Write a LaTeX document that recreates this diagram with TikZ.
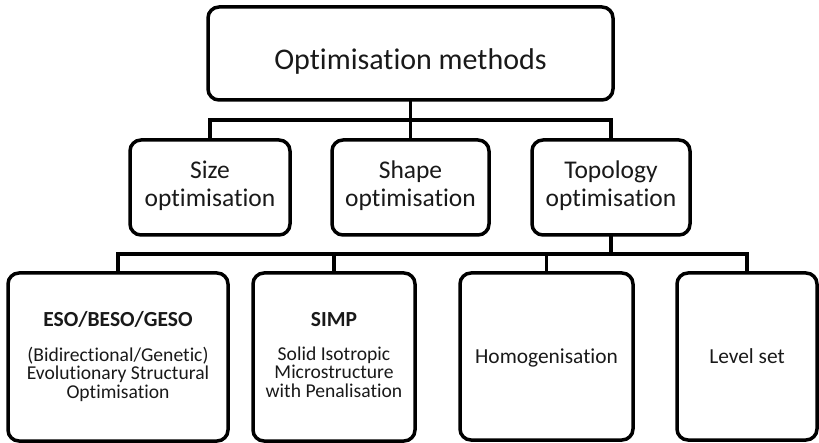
\documentclass[tikz,border=0pt]{standalone}
\usepackage{fontspec}
\setmainfont{Carlito}[Ligatures={NoCommon,NoRare,NoContextual}]
\newcommand{\stk}[1]{\vtop{\halign{\hfil##\hfil\cr#1\crcr}}}
\begin{document}
\begin{tikzpicture}[x=1pt,y=-1pt,line width=3.5pt,
  box/.style={draw, rounded corners=11pt, inner sep=0pt, outer sep=0pt},
  txt/.style={anchor=base, inner sep=0pt, outer sep=0pt, text=black!90},
  topfont/.style={font=\fontsize{30}{36}\selectfont},
  midfont/.style={font=\fontsize{25.5}{27.5}\selectfont},
  headfont/.style={font=\fontsize{21.5}{24}\selectfont\bfseries},
  bodyfont/.style={font=\fontsize{19.6}{18.4}\selectfont},
  leaffont/.style={font=\fontsize{21.4}{24}\selectfont}]
\useasboundingbox (0,0) rectangle (819,443);
% boxes
\node[box, minimum width=405, minimum height=93] (top) at (410.5,53.5) {};
\node[box, minimum width=160, minimum height=95] (size) at (210,187.5) {};
\node[box, minimum width=157, minimum height=95] (shape) at (410.5,187.5) {};
\node[box, minimum width=158, minimum height=95] (topo) at (611,187.5) {};
\node[box, minimum width=220, minimum height=168] (eso) at (118,357) {};
\node[box, minimum width=162, minimum height=168] (simp) at (334,357) {};
\node[box, minimum width=173, minimum height=167] (homog) at (546.5,356.5) {};
\node[box, minimum width=140, minimum height=167] (level) at (747,356.5) {};
% texts
\node[txt, topfont] (ttop) at (410.5,70) {Optimisation methods};
\node[txt, midfont] (tsize) at (210,179) {\stk{Size\cr optimisation}};
\node[txt, midfont] (tshape) at (410.5,179) {\stk{Shape\cr optimisation}};
\node[txt, midfont] (ttopo) at (611,179) {\stk{Topology\cr optimisation}};
\node[txt, headfont] (teso) at (118,327) {ESO/BESO/GESO};
\node[txt, bodyfont] (teso2) at (118,361.5) {\stk{(Bidirectional/Genetic)\cr Evolutionary Structural\cr Optimisation}};
\node[txt, headfont] (tsimp) at (334,327) {SIMP};
\node[txt, bodyfont] (tsimp2) at (334,360.5) {\stk{Solid Isotropic\cr Microstructure\cr with Penalisation}};
\node[txt, leaffont] (thomog) at (546.5,363) {Homogenisation};
\node[txt, leaffont] (tlevel) at (747,363) {Level set};
% connectors
\coordinate (bus1) at (0,120);
\coordinate (bus2) at (0,254);
\draw (top.south) -- (shape.north);
\draw (size.north) -- (size.north |- bus1) -- (topo.north |- bus1) -- (topo.north);
\draw (topo.south) -- (topo.south |- bus2);
\draw (eso.north) -- (eso.north |- bus2) -- (level.north |- bus2) -- (level.north);
\draw (simp.north) -- (simp.north |- bus2);
\draw (homog.north) -- (homog.north |- bus2);
\end{tikzpicture}
\end{document}
